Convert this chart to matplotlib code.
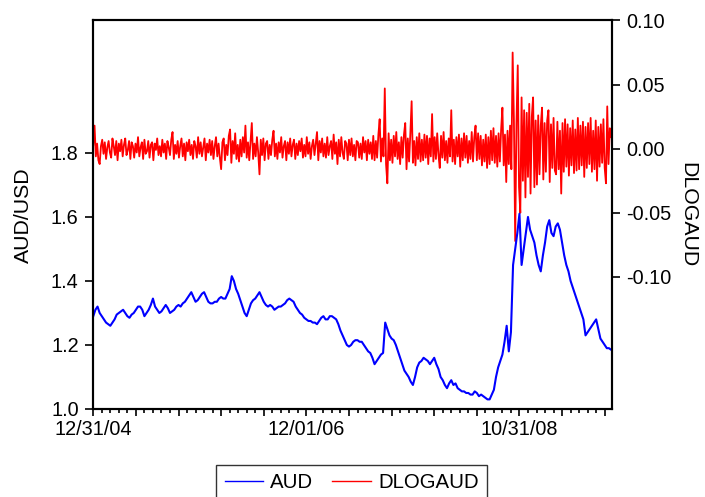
import numpy as np
import matplotlib
matplotlib.use('Agg')
import matplotlib.pyplot as plt
from matplotlib.lines import Line2D
from matplotlib.ticker import MultipleLocator, FormatStrFormatter

plt.rcParams['font.family'] = ['Liberation Sans', 'DejaVu Sans']

# AUD/USD, read every 5 trading days from 12/31/04
aud = [1.29, 1.31, 1.32, 1.30, 1.29, 1.28, 1.27, 1.265, 1.26, 1.27,
       1.28, 1.295, 1.30, 1.305, 1.31, 1.30, 1.29, 1.285, 1.295, 1.30,
       1.31, 1.32, 1.32, 1.31, 1.29, 1.30, 1.31, 1.325, 1.345, 1.32,
       1.31, 1.30, 1.305, 1.315, 1.325, 1.315, 1.30, 1.305, 1.31, 1.32,
       1.325, 1.32, 1.33, 1.335, 1.345, 1.355, 1.365, 1.35, 1.335, 1.34,
       1.35, 1.36, 1.365, 1.35, 1.335, 1.33, 1.33, 1.335, 1.335, 1.345,
       1.35, 1.345, 1.345, 1.36, 1.375, 1.415, 1.40, 1.375, 1.36, 1.34,
       1.32, 1.30, 1.29, 1.31, 1.33, 1.34, 1.345, 1.355, 1.365, 1.35,
       1.335, 1.325, 1.32, 1.325, 1.32, 1.31, 1.315, 1.32, 1.32, 1.325,
       1.33, 1.34, 1.345, 1.34, 1.335, 1.32, 1.31, 1.30, 1.295, 1.285,
       1.28, 1.275, 1.275, 1.27, 1.27, 1.265, 1.275, 1.285, 1.29, 1.28,
       1.28, 1.29, 1.29, 1.285, 1.28, 1.265, 1.245, 1.23, 1.215, 1.20,
       1.195, 1.20, 1.21, 1.215, 1.215, 1.21, 1.21, 1.20, 1.19, 1.18,
       1.175, 1.16, 1.14, 1.15, 1.16, 1.17, 1.175, 1.27, 1.25, 1.23,
       1.22, 1.215, 1.20, 1.18, 1.16, 1.14, 1.12, 1.11, 1.10, 1.085,
       1.075, 1.10, 1.13, 1.145, 1.15, 1.16, 1.155, 1.15, 1.14, 1.15,
       1.16, 1.14, 1.125, 1.10, 1.09, 1.075, 1.065, 1.08, 1.09, 1.075,
       1.08, 1.065, 1.06, 1.055, 1.055, 1.05, 1.05, 1.045, 1.045, 1.055,
       1.05, 1.04, 1.045, 1.04, 1.035, 1.03, 1.03, 1.045, 1.06, 1.10,
       1.13, 1.15, 1.17, 1.21, 1.26, 1.18, 1.24, 1.45, 1.50, 1.55,
       1.61, 1.45, 1.50, 1.55, 1.60, 1.56, 1.54, 1.52, 1.48, 1.45,
       1.43, 1.48, 1.52, 1.57, 1.59, 1.55, 1.54, 1.57, 1.58, 1.56,
       1.52, 1.48, 1.45, 1.43, 1.40, 1.38, 1.36, 1.34, 1.32, 1.30,
       1.28, 1.23, 1.24, 1.25, 1.26, 1.27, 1.28, 1.25, 1.22, 1.21,
       1.20, 1.19, 1.19, 1.185, 1.19]

# DLOGAUD, read every 3 trading days (in thousandths)
dlog_milli = [
    3, 18, -6, 4, -9, -12, 2, 7, -4, 5, -8, 1, 6, -3, -7, 8, 2, -5, 6, -9,
    4, -2, 7, -6, 3, 8, -5, -1, 6, -8, 5, 2, -7, 4, -3, 9, -6, 1, 5, -8,
    7, -4, -2, 6, -7, 3, 5, -9, 4, -1, 8, -5, 2, -6, 7, -3, 4, -8, 6, 1,
    -5, 7, 13, -8, 3, -4, 6, -7, 2, 8, -6, 4, -9, 5, -2, 7, -5, 3, -8, 6,
    2, -7, 9, -4, 5, -6, 1, 8, -9, 4, -3, 7, -5, 6, -8, 2, 9, -6, 4, -7,
    -16, 5, 8, -9, 3, -5, 10, 15, -11, 6, -4, 12, -8, 3, -10, 7, -6, 9, -3, 18,
    -7, 5, -9, 6, 20, -8, 4, -6, 9, -3, -20, 7, -5, 8, -9, 4, 6, -8, 3, -5,
    7, 14, -6, 4, -8, 5, -3, 9, -7, 2, 6, -9, 5, -4, 8, -6, 3, 7, -8, 4,
    -5, 6, -2, 8, -7, 3, -6, 9, -4, 5, -8, 2, 7, -5, 4, 13, -9, 6, -3, 8,
    -6, 4, -7, 9, -5, 2, 6, -8, 11, -4, 5, -12, 7, -6, 9, -3, -8, 6, 4, -9,
    7, -5, 8, -6, 3, -9, 6, 5, -7, 4, -8, 9, -3, 6, -9, 7, -4, 5, -8, 10,
    -9, 6, -7, 11, 23, -10, 8, -6, 47, -12, -27, 12, -9, 7, -11, 10, -6, 13, -8, 5,
    -12, 9, -7, 11, 20, -16, 8, -10, 12, 37, -11, 6, -13, 9, -8, 12, -10, 7, -9, 11,
    -7, 10, -12, 8, -6, 27, -10, 9, -8, 12, -5, -15, 10, -7, 13, -9, 6, -11, 8, -6,
    30, -10, 7, -12, 9, -6, 11, -14, 8, -9, 12, -7, 10, -11, 6, -8, 13, -10, 9, 18,
    -9, 12, -8, 10, -13, 7, -10, 11, -15, 9, -12, 14, -9, 16, -11, 10, -14, 12, -10, 15,
    32, -13, 11, -26, 14, -12, 18, -16, 75, 22, -72, 20, 65, -30, -50, 40, -25, 30, -38, 28,
    -22, 35, -35, 25, 40, -30, 22, -28, 26, -20, 18, 32, -24, 20, -18, 22, 30, -26, 19, -15,
    24, -17, -20, 21, -16, 14, -35, 20, -18, 23, -14, 19, -21, 16, -13, 22, -19, 15, -17, 24,
    -16, 18, -13, 21, -22, 17, -15, 20, -12, 24, -18, 14, -16, 22, -25, 17, -14, 19, -11, 23,
    -15, -27, 33, -12, 16, 9]
dlogaud = np.array(dlog_milli) / 1000.0

date_ticks = [0, 500, 1000]
date_labels = ['12/31/04', '12/01/06', '10/31/08']
n_obs = 1217

aud_x = np.arange(len(aud)) * 5
dlog_x = np.arange(len(dlogaud)) * 3

fig = plt.figure(figsize=(7.05, 4.97), dpi=100)
ax1 = fig.add_axes([0.1323, 0.1771, 0.7357, 0.7817])
ax2 = ax1.twinx()

ax2.plot(dlog_x, dlogaud, color='#ff0000', lw=1.3)
ax1.plot(aud_x, aud, color='#0000ff', lw=1.5)
ax1.set_zorder(ax2.get_zorder() + 1)
ax1.patch.set_visible(False)

ax1.set_xlim(0, n_obs)
ax1.set_ylim(1.0, 2.214)
ax2.set_ylim(-0.203, 0.10)

ax1.set_yticks([1.0, 1.2, 1.4, 1.6, 1.8])
ax1.yaxis.set_major_formatter(FormatStrFormatter('%.1f'))
ax2.set_yticks([-0.10, -0.05, 0.0, 0.05, 0.10])
ax2.yaxis.set_major_formatter(FormatStrFormatter('%.2f'))

ax1.xaxis.set_major_locator(MultipleLocator(100))
ax1.xaxis.set_minor_locator(MultipleLocator(20))
lab = dict(zip(date_ticks, date_labels))
ax1.xaxis.set_major_formatter(plt.FuncFormatter(lambda v, p: lab.get(int(round(v)), '')))

fs = 14.3
ax1.tick_params(axis='y', direction='out', length=6, width=1.2, labelsize=fs, pad=4.5)
ax1.tick_params(axis='x', which='major', direction='out', length=5, width=1.2, labelsize=fs, pad=3)
ax1.tick_params(axis='x', which='minor', direction='out', length=3, width=1.2)
ax2.tick_params(axis='y', direction='out', length=6, width=1.2, labelsize=fs, pad=4)

for ax in (ax1, ax2):
    for s in ax.spines.values():
        s.set_linewidth(1.5)
        s.set_color('black')

ax1.set_ylabel('AUD/USD', fontsize=15.3, labelpad=13)
ax2.set_ylabel('DLOGAUD', fontsize=15.3, rotation=-90, labelpad=19)

handles = [Line2D([], [], color='#0000ff', lw=1.0),
           Line2D([], [], color='#ff0000', lw=1.0)]
leg = fig.legend(handles, ['AUD', 'DLOGAUD'], loc='upper center',
                 bbox_to_anchor=(0.4986, 1 - 465 / 497), ncol=2, fontsize=14.7,
                 frameon=True, fancybox=False, shadow=False,
                 handlelength=1.9, handletextpad=0.35, columnspacing=0.9,
                 borderpad=0.4, borderaxespad=0)
leg.get_frame().set_edgecolor('black')
leg.get_frame().set_linewidth(1.0)

fig.savefig('out.png', dpi=100)
